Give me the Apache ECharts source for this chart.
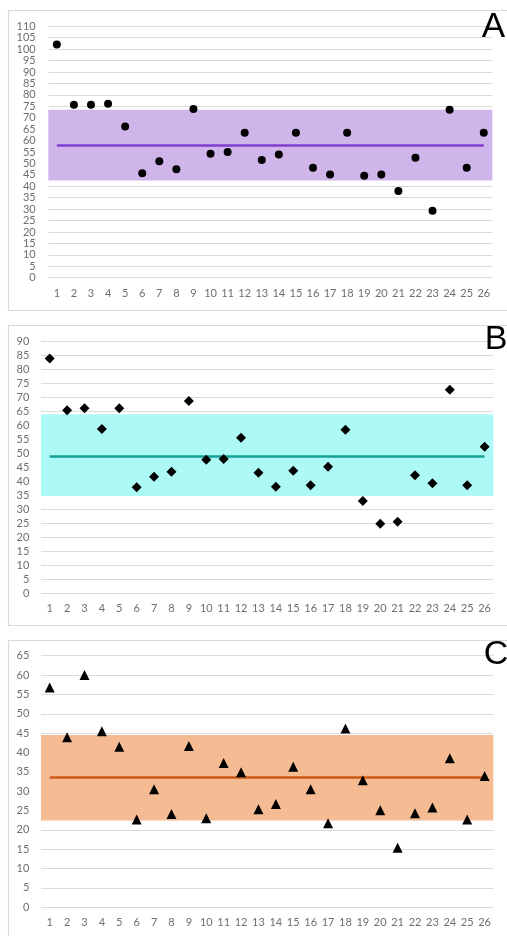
<!DOCTYPE html>
<html>
<head>
<meta charset="utf-8">
<script src="https://cdn.jsdelivr.net/npm/echarts@6/dist/echarts.min.js"></script>
<style>
html,body{margin:0;padding:0;background:#fff;}
#chart{width:507px;height:936px;}
</style>
</head>
<body>
<div id="chart"></div>
<script>
const categories = ['1','2','3','4','5','6','7','8','9','10','11','12','13','14','15','16','17','18','19','20','21','22','23','24','25','26'];

const valuesA = [102, 75.7, 75.7, 76.1, 66.2, 45.7, 51, 47.5, 73.8, 54.2, 55, 63.4, 51.5, 53.9, 63.4, 48.1, 45.2, 63.4, 44.6, 45.2, 37.9, 52.5, 29.3, 73.5, 48.1, 63.4];
const bandA = [42.5, 73.5];
const meanA = 58;

const valuesB = [83.8, 65.3, 66.0, 58.6, 66.0, 37.8, 41.6, 43.4, 68.6, 47.6, 47.9, 55.5, 43.0, 38.0, 43.7, 38.5, 45.1, 58.3, 32.9, 24.8, 25.5, 42.1, 39.3, 72.6, 38.5, 52.3];
const bandB = [34.7, 63.9];
const meanB = 49;

const valuesC = [56.8, 43.9, 60.0, 45.5, 41.5, 22.7, 30.5, 24.1, 41.7, 23.0, 37.3, 34.9, 25.3, 26.7, 36.3, 30.5, 21.7, 46.2, 32.8, 25.1, 15.4, 24.3, 25.8, 38.5, 22.7, 33.9];
const bandC = [22.4, 44.5];
const meanC = 33.6;

const panelLetters = ['A', 'B', 'C'];
const yMax = [110, 90, 65];

const labelFont = 'Lato, "Liberation Sans", sans-serif';
const labelColor = '#6e6e6e';
const gridColor = '#dadada';

function xAxisDef(gi) {
  return {
    type: 'category', gridIndex: gi, data: categories,
    axisLine: {show: false}, axisTick: {show: false},
    axisLabel: {color: labelColor, fontSize: 11, fontFamily: labelFont, margin: 10, interval: 0},
    splitLine: {show: false}
  };
}
function yAxisDef(gi, max, margin) {
  return {
    type: 'value', gridIndex: gi, min: 0, max: max, interval: 5,
    axisLine: {show: false}, axisTick: {show: false},
    axisLabel: {color: labelColor, fontSize: 11, fontFamily: labelFont, margin: margin},
    splitLine: {lineStyle: {color: gridColor, width: 1}}
  };
}
function scatterDef(gi, values, symbol, size, bandColor, band, lineColor, mean) {
  return {
    type: 'scatter', xAxisIndex: gi, yAxisIndex: gi, data: values,
    symbol: symbol, symbolSize: size,
    itemStyle: {color: '#000', opacity: 1}, z: 5,
    markArea: {silent: true, itemStyle: {color: bandColor, opacity: 1},
      data: [[{yAxis: band[0]}, {yAxis: band[1]}]]},
    markLine: {silent: true, symbol: 'none', label: {show: false},
      lineStyle: {color: lineColor, width: 2.5, type: 'solid', opacity: 1},
      data: [[{coord: [categories[0], mean]}, {coord: [categories[categories.length - 1], mean]}]]}
  };
}

const chart = echarts.init(document.getElementById('chart'), null, {renderer: 'canvas'});
const option = {
  animation: false,
  backgroundColor: '#fff',
  grid: [
    {left: 48.3, top: 26.3, width: 444, height: 251.4},
    {left: 41, top: 341, width: 452.3, height: 252.3},
    {left: 41, top: 655.7, width: 452.3, height: 251.6}
  ],
  xAxis: [xAxisDef(0), xAxisDef(1), xAxisDef(2)],
  yAxis: [yAxisDef(0, yMax[0], 12.6), yAxisDef(1, yMax[1], 11.7), yAxisDef(2, yMax[2], 11.7)],
  series: [
    scatterDef(0, valuesA, 'circle', 8, '#cfb5ea', bandA, '#7f3fcf', meanA),
    scatterDef(1, valuesB, 'diamond', 10, '#adf9f5', bandB, '#14a096', meanB),
    scatterDef(2, valuesC, 'triangle', 10, '#f5bc94', bandC, '#c95a18', meanC)
  ],
  graphic: [
    {type: 'rect', shape: {x: 8.5, y: 10.5, width: 520, height: 300}, style: {fill: 'none', stroke: '#d9d9d9', lineWidth: 1.2}, z: -1},
    {type: 'rect', shape: {x: 8.5, y: 325.5, width: 520, height: 300}, style: {fill: 'none', stroke: '#d9d9d9', lineWidth: 1.2}, z: -1},
    {type: 'rect', shape: {x: 8.5, y: 640.5, width: 520, height: 320}, style: {fill: 'none', stroke: '#d9d9d9', lineWidth: 1.2}, z: -1},
    {type: 'text', x: 493.5, y: 27.5, style: {text: panelLetters[0], fill: '#000', font: '35px "Liberation Sans", Arial, sans-serif', textAlign: 'center', textVerticalAlign: 'middle'}, z: 10},
    {type: 'text', x: 496, y: 340, style: {text: panelLetters[1], fill: '#000', font: '34px "Liberation Sans", Arial, sans-serif', textAlign: 'center', textVerticalAlign: 'middle'}, z: 10},
    {type: 'text', x: 496, y: 655, style: {text: panelLetters[2], fill: '#000', font: '34px "Liberation Sans", Arial, sans-serif', textAlign: 'center', textVerticalAlign: 'middle'}, z: 10}
  ]
};
chart.setOption(option);
</script>
</body>
</html>
